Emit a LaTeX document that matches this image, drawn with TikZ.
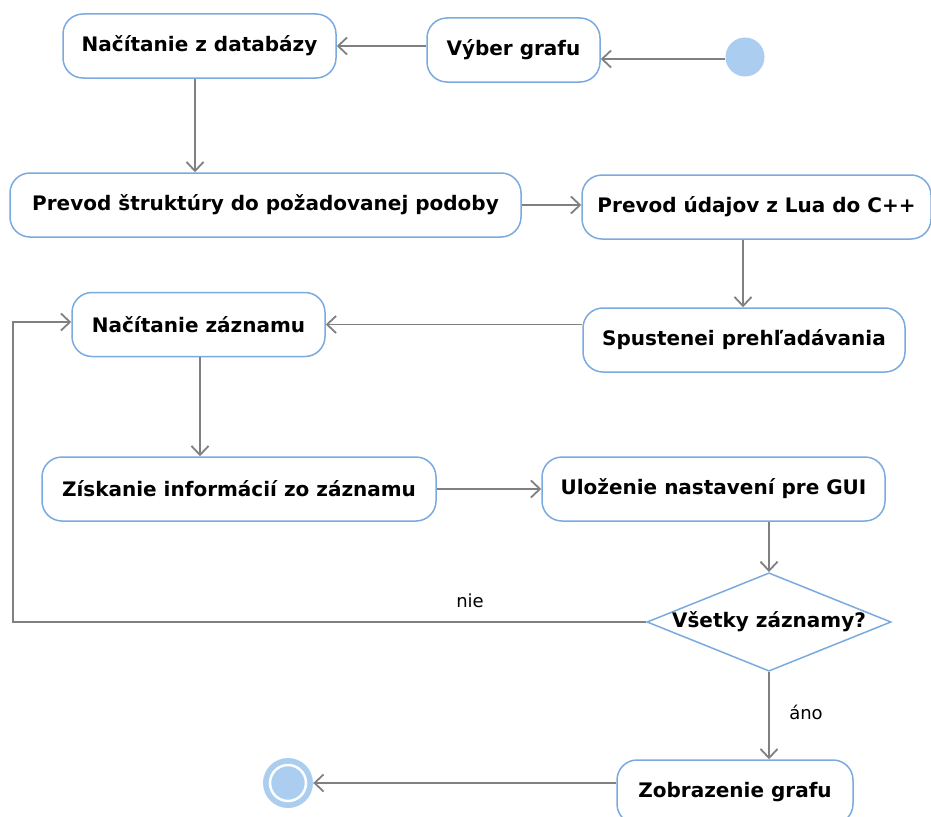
\documentclass[tikz,border=0pt]{standalone}
\usepackage{fontspec}
\setmainfont{DejaVu Sans}
\usetikzlibrary{shapes.geometric,arrows.meta,calc}
\definecolor{edgeblue}{RGB}{122,170,224}
\definecolor{dotblue}{RGB}{170,205,240}
\definecolor{flowgray}{RGB}{128,128,128}
\begin{document}
\begin{tikzpicture}[x=1pt,y=-1pt,
  action/.style={draw=edgeblue, line width=1.5pt, fill=white, rounded corners=20pt,
    minimum height=64pt, font=\fontsize{20}{22}\selectfont\bfseries, inner sep=0pt},
  decision/.style={diamond, draw=edgeblue, line width=1.5pt, fill=white, aspect=2.48,
    minimum width=238pt, minimum height=96pt, inner sep=0pt,
    font=\fontsize{20}{22}\selectfont\bfseries},
  flow/.style={draw=flowgray, line width=1.8pt,
    -{Straight Barb[length=9pt,width=17pt,line width=1.8pt]}},
  guard/.style={font=\fontsize{18}{20}\selectfont}
]
\useasboundingbox (0,0) rectangle (931,816);

% start and end markers
\node[circle, fill=dotblue, minimum size=39pt, inner sep=0pt] (start) at (745,57) {};
\node[circle, fill=dotblue, minimum size=50pt, inner sep=0pt] (stop) at (288,783) {};
\draw[white, line width=2.5pt] (stop.center) circle (18pt);

% actions
\node[action, minimum width=273pt] (load)   at (199.5,46)  {Načítanie z databázy};
\node[action, minimum width=173pt] (pick)   at (513.5,50)  {Výber grafu};
\node[action, minimum width=511pt] (conv)   at (265.5,205) {Prevod štruktúry do požadovanej podoby};
\node[action, minimum width=349pt] (lua)    at (756.5,207) {Prevod údajov z Lua do C++};
\node[action, minimum width=322pt] (run)    at (744,340)   {Spustenei prehľadávania};
\node[action, minimum width=253pt] (rec)    at (198.5,324.5) {Načítanie záznamu};
\node[action, minimum width=394pt] (info)   at (239,489)   {Získanie informácií zo záznamu};
\node[action, minimum width=343pt] (save)   at (713.5,489) {Uloženie nastavení pre GUI};
\node[decision] (all) at (769,622) {Všetky záznamy?};
\node[action, minimum width=236pt] (show)   at (735,792)   {Zobrazenie grafu};

% control flow
\coordinate (startout) at ($(start.west)+(0,2)$);
\draw[flow] (startout) -- (startout -| pick.east);
\draw[flow] (pick.west |- load) -- (load.east);
\draw[flow] (load.south -| 195,0) -- (conv.north -| 195,0);
\draw[flow] (conv.east) -- (lua.west |- conv);
\draw[flow] (lua.south -| 743,0) -- (run.north -| 743,0);
\draw[flow] (run.west |- rec) -- (rec.east);
\draw[flow] (rec.south -| 200,0) -- (info.north -| 200,0);
\draw[flow] (info.east) -- (save.west);
\draw[flow] (save.south -| all) -- (all.north);
\coordinate (loopdown) at (13,622);
\coordinate (loopup) at (13,322);
\draw[flow] (all.west) -- (loopdown) -- (loopup) -- (rec.west |- loopup);
\node[guard] (no) at (470,601) {nie};
\draw[flow] (all.south) -- (show.north -| all);
\node[guard] (yes) at (806,712) {áno};
\draw[flow] (show.west |- stop) -- (stop.east);
\end{tikzpicture}
\end{document}
